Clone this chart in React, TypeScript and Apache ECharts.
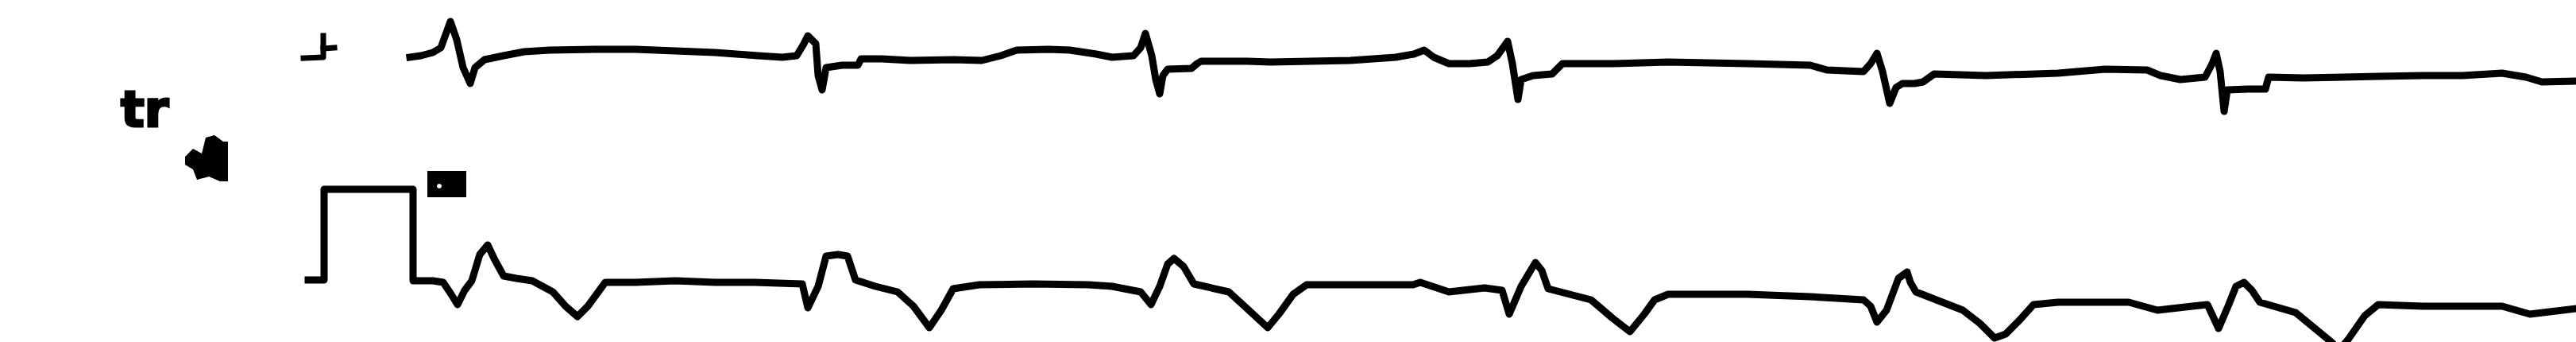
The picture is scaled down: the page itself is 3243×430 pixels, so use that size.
import React, { useEffect, useRef } from "react";
import * as echarts from "echarts";

// ECG strip: x = time position, y = deflection position (downwards positive)
const leadTopTrace: number[][] = [
  [516,72],[530,70],[545,66],[555,60],[567,27],[575,50],[583,85],[592,105],[598,85],[610,75],[634,70],[660,65],[692,63],
  [750,62],[800,62],[850,64],[900,66],[954,70],[985,72],[1003,70],[1012,55],[1017,45],[1027,55],[1030,95],[1035,113],
  [1040,85],[1060,82],[1080,82],[1084,74],[1110,74],[1146,76],[1200,75],[1236,76],[1260,70],[1280,63],[1320,62],[1347,63],
  [1380,68],[1400,72],[1427,70],[1436,60],[1442,42],[1450,70],[1455,100],[1460,118],[1464,95],[1470,87],[1500,86],[1507,80],
  [1512,77],[1570,77],[1600,78],[1650,77],[1700,76],[1757,72],[1780,68],[1793,63],[1805,72],[1824,80],[1850,80],[1873,78],
  [1885,70],[1898,52],[1904,80],[1911,125],[1915,100],[1930,95],[1954,93],[1967,80],[2030,80],[2100,78],[2200,80],[2279,82],
  [2300,88],[2346,90],[2355,80],[2363,67],[2370,90],[2379,130],[2387,110],[2395,105],[2410,105],[2421,103],[2435,93],
  [2500,95],[2591,92],[2650,87],[2703,88],[2720,95],[2745,100],[2776,97],[2785,80],[2790,67],[2795,90],[2800,140],
  [2804,113],[2830,112],[2852,112],[2856,97],[2900,98],[2950,97],[2994,96],[3050,95],[3100,95],[3150,92],[3180,97],
  [3200,103],[3243,102]
];

const leadBottomTrace: number[][] = [
  [388,352],[408,352],[408,238],[520,238],[520,353],[545,353],[558,355],[568,370],[576,383],[585,365],[594,353],[604,320],
  [614,308],[622,325],[634,347],[650,350],[670,353],[696,367],[712,385],[727,398],[740,385],[762,355],[800,355],[850,353],
  [900,355],[950,355],[1010,357],[1017,387],[1030,360],[1040,322],[1055,320],[1067,322],[1077,352],[1102,360],
  [1130,367],[1150,385],[1170,412],[1185,390],[1200,363],[1233,358],[1300,357],[1370,358],[1400,360],[1436,367],[1449,383],
  [1460,360],[1470,332],[1478,325],[1490,335],[1503,357],[1547,367],[1570,388],[1596,412],[1610,395],[1628,370],[1645,358],
  [1700,358],[1779,358],[1788,355],[1824,367],[1869,362],[1891,365],[1900,395],[1915,360],[1933,330],[1941,340],[1949,363],
  [2003,377],[2030,400],[2052,417],[2070,395],[2083,377],[2100,370],[2200,370],[2279,373],[2346,377],[2355,385],[2363,405],
  [2375,390],[2390,350],[2401,342],[2405,355],[2412,367],[2471,390],[2493,407],[2511,425],[2525,420],[2542,403],[2560,383],
  [2591,380],[2680,380],[2716,390],[2760,385],[2779,383],[2787,400],[2793,413],[2805,385],[2815,360],[2825,355],[2835,365],
  [2845,380],[2890,393],[2935,430],[2945,440],[2956,427],[2977,397],[2994,383],[3050,385],[3150,385],[3185,395],[3243,388]
];

const markStem: number[][] = [[407,45],[407,72],[382,73]];
const markStub: number[][] = [[407,61],[421,60]];

const leadLabel = "tr";

export default function App() {
  const ref = useRef<HTMLDivElement>(null);
  useEffect(() => {
    if (!ref.current) return;
    const chart = echarts.init(ref.current, null, { renderer: "svg" });
    const mk = (data: number[][], w = 9) => ({
      type: "line",
      data,
      symbol: "none",
      smooth: false,
      lineStyle: { color: "#000", width: w, cap: "square", join: "round" },
      clip: true,
    });
    chart.setOption({
      animation: false,
      backgroundColor: "#fff",
      grid: { left: 0, right: 0, top: 0, bottom: 0 },
      xAxis: { type: "value", min: 0, max: 3243, show: false },
      yAxis: { type: "value", min: 0, max: 430, inverse: true, show: false },
      series: [mk(leadTopTrace), mk(leadBottomTrace), mk(markStem, 7), mk(markStub, 7)],
      graphic: [
        {
          type: "text",
          x: 152,
          y: 106,
          style: {
            text: leadLabel,
            fontSize: 62,
            fontWeight: 900,
            fontFamily: "DejaVu Sans",
            fill: "#000",
            stroke: "#000",
            lineWidth: 3,
          },
        },
        {
          type: "polygon",
          shape: {
            points: [
              [233,197],[243,187],[254,193],[259,173],[270,170],[281,178],[287,178],[287,228],
              [277,228],[263,222],[248,226],[243,213],[233,207]
            ],
          },
          style: { fill: "#000" },
        },
        { type: "rect", shape: { x: 538, y: 215, width: 49, height: 33 }, style: { fill: "#000" } },
        { type: "circle", shape: { cx: 553, cy: 234, r: 3 }, style: { fill: "#fff" } },
      ],
    });
    return () => chart.dispose();
  }, []);
  return (
    <div
      ref={ref}
      style={{ position: "absolute", left: 0, top: 0, width: 3243, height: 430, background: "#fff" }}
    />
  );
}
